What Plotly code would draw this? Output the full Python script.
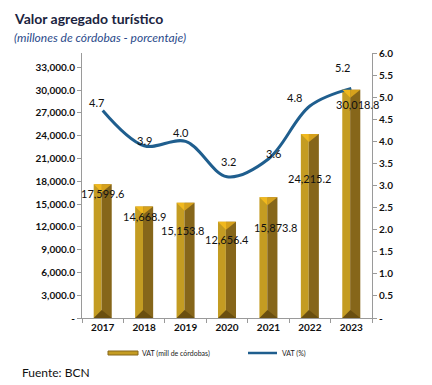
import plotly.graph_objects as go

years = ["2017", "2018", "2019", "2020", "2021", "2022", "2023"]
vat_mill = [17599.6, 14668.9, 15153.8, 12656.4, 15873.8, 24215.2, 30018.8]
vat_pct = [4.7, 3.9, 4.0, 3.2, 3.6, 4.8, 5.2]
left_ticks = [i * 3000 for i in range(12)]
right_ticks = [i * 0.5 for i in range(13)]

# label offsets in pixels (styling)
bar_lbl_dx = [0, 0, -3, 0, 7, 0, 6]
bar_lbl_dy = [-9, -10, -28, -18, -30, -45, -15]
pct_lbl_dx = [-6, 0, -5, 1, 5, -15, -9]
pct_lbl_dy = [8, 5, 9, 15, 6, 9, 21]

FRONT = "#C49C22"
SIDE = "#86661A"
TOP_L = "#F0B81E"
TOP_R = "#D6A11C"
LINE = "#1F5E8E"
FONT = "Lato"

xpos = list(range(len(years)))

fig = go.Figure()
fig.add_trace(go.Bar(x=xpos, y=vat_mill, width=0.19, offset=-0.2175,
                     marker=dict(color=FRONT, line=dict(width=0)),
                     name="VAT (mill de córdobas)", showlegend=False))
fig.add_trace(go.Bar(x=xpos, y=vat_mill, width=0.245, offset=-0.0275,
                     marker=dict(color=SIDE, line=dict(width=0)),
                     showlegend=False))
fig.add_trace(go.Scatter(x=xpos, y=vat_pct, yaxis="y2", mode="lines",
                         line=dict(color=LINE, width=3, shape="spline", smoothing=1.0),
                         name="VAT (%)", showlegend=False))

# top caps / bottom shading of bars
for xi, v in zip(xpos, vat_mill):
    fig.add_shape(type="path", xref="x", yref="y", xsizemode="pixel", ysizemode="pixel",
                  xanchor=xi, yanchor=v, path="M-9,0 L-1,0 L-1,-8 Z",
                  fillcolor=TOP_L, line=dict(width=0), layer="above")
    fig.add_shape(type="path", xref="x", yref="y", xsizemode="pixel", ysizemode="pixel",
                  xanchor=xi, yanchor=v, path="M-1,0 L9,0 L-1,-8 Z",
                  fillcolor=TOP_R, line=dict(width=0), layer="above")
    fig.add_shape(type="path", xref="x", yref="y", xsizemode="pixel", ysizemode="pixel",
                  xanchor=xi, yanchor=0, path="M-9,0 L9,0 L-1,8 Z",
                  fillcolor="#6A4F10", line=dict(width=0), layer="above")

for i, (xi, v) in enumerate(zip(xpos, vat_mill)):
    fig.add_annotation(x=xi, y=v, xref="x", yref="y", text=f"{v:,.1f}",
                       showarrow=False, xshift=bar_lbl_dx[i], yshift=bar_lbl_dy[i],
                       font=dict(family=FONT, size=11, color="#111111"))
for i, (xi, v) in enumerate(zip(xpos, vat_pct)):
    fig.add_annotation(x=xi, y=v, xref="x", yref="y2", text=f"{v:.1f}",
                       showarrow=False, xshift=pct_lbl_dx[i], yshift=pct_lbl_dy[i],
                       font=dict(family=FONT, size=11, color="#111111"))

OFF = 8  # page body margin
W, H = 432 - OFF, 385 - OFF
ml, mr, mt, mb = 82 - OFF, 60, 53 - OFF, 67
pw, ph = W - ml - mr, H - mt - mb


def px(xp):
    return (xp - OFF - ml) / pw


def py(yp):
    return ((H - (yp - OFF)) - mb) / ph


# titles
fig.add_annotation(x=px(12), y=py(18), xref="paper", yref="paper", text="<b>Valor agregado turístico</b>",
                   showarrow=False, xanchor="left", yanchor="middle",
                   font=dict(family=FONT, size=14, color="#1B2440"))
fig.add_annotation(x=px(12), y=py(37), xref="paper", yref="paper",
                   text="<i>(millones de córdobas - porcentaje)</i>",
                   showarrow=False, xanchor="left", yanchor="middle",
                   font=dict(family=FONT, size=12, color="#2A4A8A"))
fig.add_annotation(x=px(20), y=py(372), xref="paper", yref="paper", text="Fuente: BCN",
                   showarrow=False, xanchor="left", yanchor="middle",
                   font=dict(family=FONT, size=12, color="#111111"))

# legend
fig.add_shape(type="rect", xref="paper", yref="paper", x0=px(108), x1=px(138), y0=py(355), y1=py(351),
              fillcolor=FRONT, line=dict(color=SIDE, width=1))
fig.add_annotation(x=px(140), y=py(353), xref="paper", yref="paper", text="VAT (mill de córdobas)",
                   showarrow=False, xanchor="left", yanchor="middle",
                   font=dict(family=FONT, size=7, color="#222222"))
fig.add_shape(type="line", xref="paper", yref="paper", x0=px(248), x1=px(277), y0=py(353), y1=py(353),
              line=dict(color=LINE, width=2.5))
fig.add_annotation(x=px(280), y=py(353), xref="paper", yref="paper", text="VAT (%)",
                   showarrow=False, xanchor="left", yanchor="middle",
                   font=dict(family=FONT, size=7, color="#222222"))

fig.update_layout(
    width=W, height=H, margin=dict(l=ml, r=mr, t=mt, b=mb),
    paper_bgcolor="white", plot_bgcolor="white", barmode="overlay",
    font=dict(family=FONT, size=10, color="#111111"),
    xaxis=dict(tickvals=xpos, ticktext=years, showline=True, linecolor="#9A9A9A", linewidth=1,
               ticks="", showgrid=False, range=[-0.5, 6.5], zeroline=False,
               tickfont=dict(family=FONT, size=10, color="#111111", weight="bold")),
    xaxis2=dict(overlaying="x", range=[-0.5, 6.5], tickvals=[i - 0.5 for i in range(8)],
                ticks="outside", ticklen=4, tickcolor="#9A9A9A", showticklabels=False,
                showgrid=False, zeroline=False, side="bottom", anchor="y"),
    yaxis=dict(range=[0, 34870], tickvals=left_ticks,
               ticktext=["-" if t == 0 else f"{t:,.1f}" for t in left_ticks],
               showline=True, linecolor="#9A9A9A", linewidth=1, ticks="outside", ticklen=4,
               tickcolor="#9A9A9A", showgrid=False, zeroline=False,
               tickfont=dict(family=FONT, size=10, color="#111111", weight="bold")),
    yaxis2=dict(range=[0, 6], tickvals=right_ticks, overlaying="y", side="right",
                ticktext=["-" if t == 0 else f"{t:.1f}" for t in right_ticks],
                showline=True, linecolor="#9A9A9A", linewidth=1, ticks="outside", ticklen=4,
                tickcolor="#9A9A9A", showgrid=False, zeroline=False,
                tickfont=dict(family=FONT, size=10, color="#111111", weight="bold")),
)
# invisible helper trace so xaxis2 draws the category-boundary ticks
fig.add_trace(go.Scatter(x=[0], y=[0], xaxis="x2", mode="markers", marker=dict(opacity=0),
                         showlegend=False, hoverinfo="skip"))

fig.write_html("out.html")
